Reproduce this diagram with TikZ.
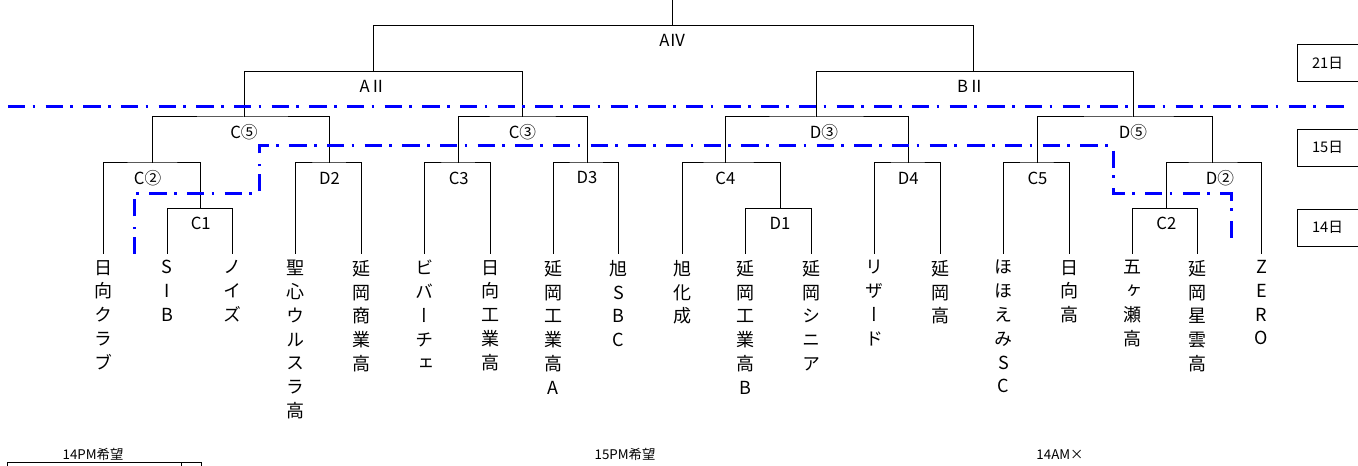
\documentclass[tikz,border=0pt]{standalone}
\usepackage{fontspec}
\setmainfont{Noto Sans CJK JP}
\newfontfamily\tatefont[RawFeature=+vert]{Noto Sans CJK JP}
\tikzset{
  bracket/.style={line width=0.75pt},
  leaf/.style={anchor=north, align=center, inner xsep=0pt, inner ysep=4.5pt,
    font=\tatefont\fontsize{13.5pt}{17.85pt}\selectfont,
    execute at begin node={\vphantom{日}}},
  matchlabel/.style={inner sep=0pt, yshift=-11.25pt, font=\fontsize{12.5pt}{14pt}\selectfont},
  daybox/.style={draw, line width=0.75pt, minimum width=45.75pt, minimum height=28pt,
    inner sep=0pt, font=\fontsize{11pt}{13pt}\selectfont},
  note/.style={inner sep=0pt, font=\fontsize{10pt}{12pt}\selectfont},
  dayline/.style={color=blue, line width=2.25pt, dash pattern=on 13pt off 5.5pt on 2pt off 7.75pt},
}
\begin{document}
\begin{tikzpicture}[x=0.75pt,y=0.75pt,yscale=-1,xscale=1]
\useasboundingbox (0,0) rectangle (1358,466);
\clip (0,0) rectangle (1358,466);

% Teams
\node[leaf] (l1) at (103.2,254) {日\\向\\ク\\ラ\\ブ};
\node[leaf] (l2) at (167,254) {S\\I\\B};
\node[leaf] (l3) at (232.9,254) {ノ\\イ\\ズ};
\node[leaf] (l4) at (295.8,254) {聖\\心\\ウ\\ル\\ス\\ラ\\高};
\node[leaf] (l5) at (361.2,254) {延\\岡\\商\\業\\高};
\node[leaf] (l6) at (424,254) {ビ\\バ\\ー\\チ\\ェ};
\node[leaf] (l7) at (490,254) {日\\向\\工\\業\\高};
\node[leaf] (l8) at (553,254) {延\\岡\\工\\業\\高\\A};
\node[leaf] (l9) at (618.4,254) {旭\\S\\B\\C};
\node[leaf] (l10) at (682,254) {旭\\化\\成};
\node[leaf] (l11) at (745.7,254) {延\\岡\\工\\業\\高\\B};
\node[leaf] (l12) at (811.9,254) {延\\岡\\シ\\ニ\\ア};
\node[leaf] (l13) at (874.6,254) {リ\\ザ\\ー\\ド};
\node[leaf] (l14) at (940.3,254) {延\\岡\\高};
\node[leaf] (l15) at (1003.4,254) {ほ\\ほ\\え\\み\\S\\C};
\node[leaf] (l16) at (1069,254) {日\\向\\高};
\node[leaf] (l17) at (1132.2,254) {五\\ヶ\\瀬\\高};
\node[leaf] (l18) at (1197.5,254) {延\\岡\\星\\雲\\高};
\node[leaf] (l19) at (1261.5,254) {Z\\E\\R\\O};

% Matches
\coordinate (c1) at (200.8,208.5);
\coordinate (cc2) at (152.6,163);
\coordinate (d2) at (329.6,163);
\coordinate (cc5) at (244,117);
\coordinate (c3) at (458.8,163);
\coordinate (d3) at (587,163);
\coordinate (cc3) at (522.5,117);
\coordinate (a2) at (373,71.5);
\coordinate (d1) at (780,208.5);
\coordinate (c4) at (725.4,163);
\coordinate (d4) at (908.3,163);
\coordinate (dd3) at (816,117);
\coordinate (c5) at (1037.5,163);
\coordinate (c2) at (1166.4,208.5);
\coordinate (dd2) at (1212,163);
\coordinate (dd5) at (1133,117);
\coordinate (b2) at (973,71.5);
\coordinate (a4) at (672.7,25.7);
\coordinate (final) at (672.7,0);

%Straight Lines
\draw[bracket] (l2.north) |- (c1) -| (l3.north);
\draw[bracket] (l1.north) |- (cc2) -| (c1);
\draw[bracket] (l4.north) |- (d2) -| (l5.north);
\draw[bracket] (cc2) |- (cc5) -| (d2);
\draw[bracket] (l6.north) |- (c3) -| (l7.north);
\draw[bracket] (l8.north) |- (d3) -| (l9.north);
\draw[bracket] (c3) |- (cc3) -| (d3);
\draw[bracket] (cc5) |- (a2) -| (cc3);
\draw[bracket] (l11.north) |- (d1) -| (l12.north);
\draw[bracket] (l10.north) |- (c4) -| (d1);
\draw[bracket] (l13.north) |- (d4) -| (l14.north);
\draw[bracket] (c4) |- (dd3) -| (d4);
\draw[bracket] (l15.north) |- (c5) -| (l16.north);
\draw[bracket] (l17.north) |- (c2) -| (l18.north);
\draw[bracket] (c2) |- (dd2) -| (l19.north);
\draw[bracket] (c5) |- (dd5) -| (dd2);
\draw[bracket] (dd3) |- (b2) -| (dd5);
\draw[bracket] (a2) |- (a4) -| (b2);
\draw[bracket] (final) -- (a4);

% Text Node
\node[matchlabel] (c1t) at (c1) {C1};
\node[matchlabel, xshift=-3.75pt] (cc2t) at (cc2) {C②};
\node[matchlabel] (d2t) at (d2) {D2};
\node[matchlabel] (cc5t) at (cc5) {C⑤};
\node[matchlabel] (c3t) at (c3) {C3};
\node[matchlabel] (d3t) at (d3) {D3};
\node[matchlabel] (cc3t) at (cc3) {C③};
\node[matchlabel] (a2t) at (a2) {AⅡ};
\node[matchlabel] (d1t) at (d1) {D1};
\node[matchlabel] (c4t) at (c4) {C4};
\node[matchlabel] (d4t) at (d4) {D4};
\node[matchlabel, xshift=6pt] (dd3t) at (dd3) {D③};
\node[matchlabel] (c5t) at (c5) {C5};
\node[matchlabel] (c2t) at (c2) {C2};
\node[matchlabel, xshift=6pt] (dd2t) at (dd2) {D②};
\node[matchlabel] (dd5t) at (dd5) {D⑤};
\node[matchlabel, xshift=-1.5pt] (b2t) at (b2) {BⅡ};
\node[matchlabel] (a4t) at (a4) {AⅣ};

% Days
\node[daybox] (day21) at (1327.5,63) {21日};
\node[daybox] (day15) at (1327.5,147.7) {15日};
\node[daybox] (day14) at (1327.5,227.7) {14日};
\draw[dayline] (8,106.7) -- (1350,106.7);
\draw[dayline] (134,254) -- (134,194) -- (259.5,194) -- (259.5,145.7) -- (1113,145.7) -- (1113,194) -- (1231,194) -- (1231,245);

% Notes
\node[note] (n14pm) at (93,454) {14PM希望};
\node[note] (n15pm) at (625,454) {15PM希望};
\node[note] (n14am) at (1060,455) {14AM×};
\draw[bracket] (7,462.7) rectangle (201.7,480);
\draw[bracket] (181,462.7) -- (181,480);

\end{tikzpicture}
\end{document}
